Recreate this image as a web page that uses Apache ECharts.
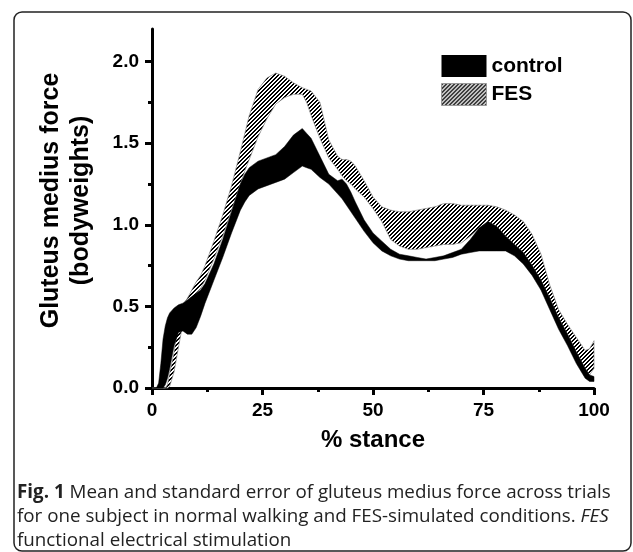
<!DOCTYPE html>
<html>
<head>
<meta charset="utf-8">
<script src="https://cdn.jsdelivr.net/npm/echarts@6/dist/echarts.min.js"></script>
<style>
    html, body { margin: 0; padding: 0; background: #fff; }
    #chart { width: 633px; height: 552px; }
</style>
</head>
<body>
<div id="chart"></div>
<script>
// % stance sample positions
const stance = [0, 1, 1.5, 2, 2.5, 3, 3.5, 4, 5, 6, 7, 8, 9, 10, 11, 12, 14, 16, 18, 20, 21, 22, 24, 26, 28,
    30, 32, 34, 35, 36, 38, 40, 42, 43, 44, 45, 46, 48, 50, 52, 54, 56, 58, 60, 62, 64, 66, 68, 70,
    72, 74, 76, 78, 80, 82, 84, 86, 88, 90, 92, 94, 96, 98, 99, 100];

// control: mean -/+ standard error (bodyweights)
const controlLow = [0, 0, 0, 0, 0, 0.02, 0.06, 0.12, 0.26, 0.34, 0.35, 0.33, 0.33, 0.37, 0.44, 0.52, 0.66, 0.80, 0.95, 1.09, 1.14, 1.18, 1.22, 1.24, 1.26,
    1.28, 1.32, 1.36, 1.35, 1.34, 1.29, 1.25, 1.19, 1.16, 1.12, 1.08, 1.04, 0.96, 0.89, 0.84, 0.81, 0.79, 0.78, 0.78, 0.78, 0.78, 0.79, 0.80, 0.82,
    0.83, 0.84, 0.84, 0.84, 0.84, 0.81, 0.76, 0.69, 0.60, 0.48, 0.36, 0.26, 0.15, 0.06, 0.04, 0.04];
const controlHigh = [0, 0, 0.03, 0.15, 0.30, 0.38, 0.43, 0.46, 0.49, 0.51, 0.52, 0.54, 0.56, 0.58, 0.60, 0.64, 0.76, 0.91, 1.08, 1.25, 1.31, 1.35, 1.39, 1.41, 1.43,
    1.48, 1.55, 1.59, 1.56, 1.53, 1.42, 1.31, 1.27, 1.28, 1.25, 1.20, 1.14, 1.03, 0.95, 0.90, 0.85, 0.82, 0.81, 0.80, 0.79, 0.80, 0.81, 0.83, 0.85,
    0.91, 0.98, 1.02, 0.99, 0.93, 0.88, 0.83, 0.75, 0.66, 0.55, 0.43, 0.33, 0.22, 0.12, 0.08, 0.07];

// FES: mean -/+ standard error (bodyweights)
const fesLow = [0, 0, 0, 0, 0, 0, 0, 0.01, 0.10, 0.25, 0.40, 0.48, 0.53, 0.58, 0.61, 0.66, 0.79, 0.93, 1.09, 1.25, 1.33, 1.40, 1.54, 1.65, 1.74,
    1.78, 1.80, 1.80, 1.75, 1.67, 1.53, 1.41, 1.34, 1.30, 1.27, 1.25, 1.22, 1.17, 1.10, 1.02, 0.91, 0.87, 0.85, 0.85, 0.86, 0.87, 0.88, 0.88, 0.89,
    0.93, 0.98, 1.02, 0.99, 0.93, 0.88, 0.83, 0.75, 0.66, 0.55, 0.43, 0.33, 0.22, 0.12, 0.08, 0.12];
const fesHigh = [0, 0, 0, 0, 0, 0, 0.02, 0.09, 0.22, 0.42, 0.51, 0.55, 0.60, 0.65, 0.69, 0.75, 0.90, 1.06, 1.24, 1.45, 1.56, 1.67, 1.83, 1.90, 1.93,
    1.91, 1.87, 1.84, 1.83, 1.82, 1.75, 1.52, 1.42, 1.40, 1.40, 1.39, 1.36, 1.27, 1.17, 1.11, 1.09, 1.08, 1.08, 1.09, 1.10, 1.11, 1.13, 1.13, 1.12,
    1.12, 1.12, 1.12, 1.11, 1.09, 1.06, 1.02, 0.94, 0.82, 0.63, 0.48, 0.39, 0.31, 0.23, 0.24, 0.29];

const xTicks = [0, 25, 50, 75, 100];
const yTicks = [0, 0.5, 1.0, 1.5, 2.0];
const yMinorTicks = [0.25, 0.75, 1.25, 1.75];

const AXIS_FONT = 'Liberation Sans, Arial, sans-serif';
const CAPTION_FONT = 'Open Sans, Noto Sans, sans-serif';
const CAPTION_SIZE = 18.8;

// diagonal hatch used for the FES band, drawn pixel by pixel so it stays crisp
const hatch = document.createElement('canvas');
hatch.width = 4;
hatch.height = 4;
const hctx = hatch.getContext('2d');
hctx.fillStyle = '#fff';
hctx.fillRect(0, 0, 4, 4);
hctx.fillStyle = '#000';
for (let px = 0; px < 4; px++) {
    for (let py = 0; py < 4; py++) {
        if ((px + py) % 4 < 2) hctx.fillRect(px, py, 1, 1);
    }
}
const hatchFill = { image: hatch, repeat: 'repeat' };

function bandRenderer(low, high, style) {
    return function (params, api) {
        if (params.dataIndex !== 0) return null;
        const top = stance.map((x, i) => api.coord([x, high[i]]));
        const bottom = stance.map((x, i) => api.coord([x, low[i]])).reverse();
        return {
            type: 'polygon',
            shape: { points: top.concat(bottom) },
            style: style,
        };
    };
}

const chart = echarts.init(document.getElementById('chart'), null, { renderer: 'canvas' });

const option = {
    animation: false,
    backgroundColor: '#fff',
    grid: { left: 152, right: 39, top: 29, bottom: 164 },
    legend: {
        left: 441,
        top: 55,
        orient: 'vertical',
        itemWidth: 45,
        itemHeight: 22,
        itemGap: 6,
        padding: 0,
        textStyle: { fontFamily: AXIS_FONT, fontWeight: 'bold', fontSize: 21, color: '#000', lineHeight: 22 },
        data: [
            { name: 'control', icon: 'rect', itemStyle: { color: '#000' } },
            { name: 'FES', icon: 'rect', itemStyle: { color: hatchFill, borderColor: '#999', borderWidth: 1 } },
        ],
    },
    xAxis: {
        type: 'value',
        min: 0,
        max: 100,
        interval: 25,
        name: '% stance',
        nameLocation: 'middle',
        nameGap: 40,
        nameTextStyle: { fontFamily: AXIS_FONT, fontWeight: 'bold', fontSize: 24, color: '#000' },
        axisLine: { lineStyle: { color: '#000', width: 3 } },
        axisTick: { length: 7, lineStyle: { color: '#000', width: 3 }, customValues: xTicks },
        minorTick: { show: true, splitNumber: 2, length: 4, lineStyle: { color: '#000', width: 3 } },
        axisLabel: { customValues: xTicks, margin: 13, fontFamily: AXIS_FONT, fontWeight: 'bold', fontSize: 19, color: '#000' },
        splitLine: { show: false },
    },
    yAxis: [
        {
            type: 'value',
            min: 0,
            max: 2.2,
            name: 'Gluteus medius force\n(bodyweights)',
            nameLocation: 'middle',
            nameGap: 56,
            nameTextStyle: {
                fontFamily: AXIS_FONT, fontWeight: 'bold', fontSize: 25, color: '#000', lineHeight: 30,
                padding: [0, 0, 0, 16],
            },
            axisLine: { show: true, lineStyle: { color: '#000', width: 3 } },
            axisTick: { show: true, length: 7, lineStyle: { color: '#000', width: 3 }, customValues: yTicks },
            axisLabel: {
                customValues: yTicks,
                margin: 13,
                formatter: (v) => v.toFixed(1),
                fontFamily: AXIS_FONT, fontWeight: 'bold', fontSize: 19, color: '#000',
            },
            splitLine: { show: false },
        },
        {
            type: 'value',
            min: 0,
            max: 2.2,
            position: 'left',
            axisLine: { show: false },
            axisTick: { show: true, length: 4, lineStyle: { color: '#000', width: 3 }, customValues: yMinorTicks },
            axisLabel: { show: false },
            splitLine: { show: false },
        },
    ],
    series: [
        {
            name: 'FES',
            type: 'custom',
            itemStyle: { color: hatchFill },
            encode: { x: 0, y: [1, 2] },
            data: stance.map((x, i) => [x, fesLow[i], fesHigh[i]]),
            renderItem: bandRenderer(fesLow, fesHigh, { fill: hatchFill, stroke: '#888', lineWidth: 0.7 }),
            z: 2,
        },
        {
            name: 'control',
            type: 'custom',
            itemStyle: { color: '#000' },
            encode: { x: 0, y: [1, 2] },
            data: stance.map((x, i) => [x, controlLow[i], controlHigh[i]]),
            renderItem: bandRenderer(controlLow, controlHigh, { fill: '#000', stroke: '#000', lineWidth: 0.5 }),
            z: 3,
        },
    ],
    graphic: [
        {
            type: 'rect',
            silent: true,
            shape: { x: 14, y: 12, width: 617, height: 539, r: 8 },
            style: { fill: 'none', stroke: '#222', lineWidth: 1.5 },
        },
        {
            type: 'text',
            x: 17,
            y: 493,
            style: {
                text: '{b|Fig. 1} Mean and standard error of gluteus medius force across trials',
                rich: { b: { fontWeight: 'bold', fontFamily: CAPTION_FONT, fontSize: CAPTION_SIZE, fill: '#222' } },
                fontFamily: CAPTION_FONT, fontSize: CAPTION_SIZE, fill: '#222', verticalAlign: 'middle',
            },
        },
        {
            type: 'text',
            x: 17,
            y: 517,
            style: {
                text: 'for one subject in normal walking and FES-simulated conditions. {i|FES}',
                rich: { i: { fontStyle: 'italic', fontFamily: CAPTION_FONT, fontSize: CAPTION_SIZE, fill: '#222' } },
                fontFamily: CAPTION_FONT, fontSize: CAPTION_SIZE, fill: '#222', verticalAlign: 'middle',
            },
        },
        {
            type: 'text',
            x: 17,
            y: 541,
            style: {
                text: 'functional electrical stimulation',
                fontFamily: CAPTION_FONT, fontSize: CAPTION_SIZE, fill: '#222', verticalAlign: 'middle',
            },
        },
    ],
};

chart.setOption(option);
</script>
</body>
</html>
